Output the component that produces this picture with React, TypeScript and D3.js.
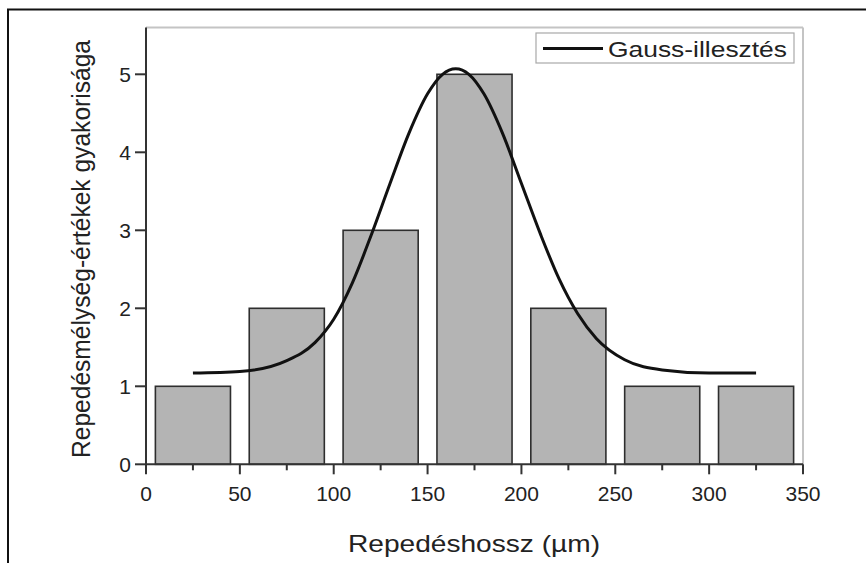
import React from "react";
import * as d3 from "d3";

const binCenters = [25, 75, 125, 175, 225, 275, 325];
const binCounts = [1, 2, 3, 5, 2, 1, 1];
const binWidth = 40;

const fitX = [25, 50, 75, 90, 100, 110, 120, 130, 140, 150, 158, 165, 172, 180, 190, 200, 210, 220, 230, 240, 255, 275, 300, 325];
const fitY = [1.17, 1.19, 1.33, 1.56, 1.86, 2.33, 2.94, 3.6, 4.24, 4.75, 5.0, 5.07, 5.0, 4.75, 4.24, 3.6, 2.96, 2.38, 1.93, 1.61, 1.34, 1.21, 1.17, 1.17];

const xTicks = [0, 50, 100, 150, 200, 250, 300, 350];
const xMinorTicks = [25, 75, 125, 175, 225, 275, 325];
const yTicks = [0, 1, 2, 3, 4, 5];

const xLabel = "Repedéshossz (µm)";
const yLabel = "Repedésmélység-értékek gyakorisága";
const legendLabel = "Gauss-illesztés";

const W = 866;
const H = 563;
const FONT = "'Liberation Sans', Arial, sans-serif";

export default function App() {
  const x = d3.scaleLinear().domain([0, 350]).range([146, 803]);
  const y = d3.scaleLinear().domain([0, 5.6]).range([464.3, 27.5]);
  const line = d3
    .line<number>()
    .x((_, i) => x(fitX[i]))
    .y((d) => y(d))
    .curve(d3.curveMonotoneX);

  return (
    <svg
      width={W}
      height={H}
      style={{ position: "fixed", left: 0, top: 0, background: "#fff" }}
      fontFamily={FONT}
    >
      <rect x={0} y={0} width={W} height={H} fill="#fff" />
      {/* figure frame */}
      <line x1={7} y1={9.5} x2={W} y2={9.5} stroke="#111" strokeWidth={2} />
      <line x1={8} y1={9} x2={8} y2={H} stroke="#111" strokeWidth={2} />

      {/* plot border top/right */}
      <line x1={x(0)} y1={y(5.6)} x2={x(350)} y2={y(5.6)} stroke="#c4c4c4" strokeWidth={2} />
      <line x1={x(350)} y1={y(5.6)} x2={x(350)} y2={y(0)} stroke="#c4c4c4" strokeWidth={2} />

      {/* bars */}
      {binCenters.map((c, i) => (
        <rect
          key={c}
          x={x(c - binWidth / 2)}
          y={y(binCounts[i])}
          width={x(c + binWidth / 2) - x(c - binWidth / 2)}
          height={y(0) - y(binCounts[i])}
          fill="#b4b4b4"
          stroke="#2e2e2e"
          strokeWidth={1.6}
        />
      ))}

      {/* fit curve */}
      <path d={line(fitY) || ""} fill="none" stroke="#111" strokeWidth={3} />

      {/* axes */}
      <line x1={x(0)} y1={y(0)} x2={x(350)} y2={y(0)} stroke="#333" strokeWidth={2} />
      <line x1={x(0)} y1={y(0) + 1} x2={x(0)} y2={y(5.6)} stroke="#333" strokeWidth={2} />
      {xTicks.map((t) => (
        <g key={"xt" + t}>
          <line x1={x(t)} y1={y(0)} x2={x(t)} y2={y(0) + 10} stroke="#333" strokeWidth={2} />
          <text x={x(t)} y={501} textAnchor="middle" fontSize={21} fill="#222">
            {t}
          </text>
        </g>
      ))}
      {xMinorTicks.map((t) => (
        <line key={"xm" + t} x1={x(t)} y1={y(0)} x2={x(t)} y2={y(0) + 6} stroke="#333" strokeWidth={2} />
      ))}
      {yTicks.map((t) => (
        <g key={"yt" + t}>
          <line x1={x(0) - 11} y1={y(t)} x2={x(0)} y2={y(t)} stroke="#333" strokeWidth={2} />
          <text x={131} y={y(t) + 7.5} textAnchor="end" fontSize={21} fill="#222">
            {t}
          </text>
        </g>
      ))}

      {/* axis labels */}
      <text
        x={474}
        y={552}
        textAnchor="middle"
        fontSize={24}
        fill="#222"
        textLength={252}
        lengthAdjust="spacingAndGlyphs"
      >
        {xLabel}
      </text>
      <text
        transform={`translate(90, 249) rotate(-90)`}
        textAnchor="middle"
        fontSize={25}
        fill="#222"
        textLength={418}
        lengthAdjust="spacingAndGlyphs"
      >
        {yLabel}
      </text>

      {/* legend */}
      <rect x={536} y={33} width={258} height={30} fill="#fff" stroke="#a8a8a8" strokeWidth={1.2} />
      <line x1={543} y1={48.5} x2={603} y2={48.5} stroke="#111" strokeWidth={3.2} />
      <text
        x={608}
        y={56.5}
        fontSize={22}
        fill="#222"
        textLength={179}
        lengthAdjust="spacingAndGlyphs"
      >
        {legendLabel}
      </text>
    </svg>
  );
}
